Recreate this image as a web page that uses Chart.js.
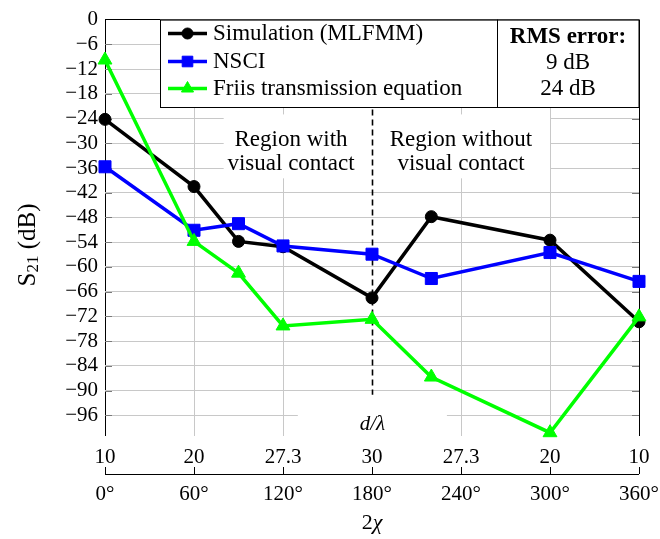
<!DOCTYPE html>
<html>
<head>
<meta charset="utf-8">
<script src="https://cdn.jsdelivr.net/npm/chart.js@4.4.1/dist/chart.umd.min.js"></script>
<style>
  html, body { margin: 0; padding: 0; background: #fff; }
</style>
</head>
<body>
<canvas id="s21Chart" width="660" height="539"></canvas>
<script>
// 2χ (deg) for each measured position
const angles = [0, 60, 90, 120, 180, 220, 300, 360];
// S21 in dB
const simulation = [-24.2, -40.5, -53.8, -55.1, -67.5, -47.8, -53.5, -73.3];
const nsci = [-35.7, -51.1, -49.5, -54.9, -56.9, -62.8, -56.5, -63.5];
const friis = [-9.8, -53.8, -61.5, -74.3, -72.7, -86.7, -100.2, -72.1];

const angleTicks = [0, 60, 120, 180, 240, 300, 360];
const distanceLabels = ['10', '20', '27.3', '30', '27.3', '20', '10'];
const yTicks = [0, -6, -12, -18, -24, -30, -36, -42, -48, -54, -60, -66, -72, -78, -84, -90, -96];
const rmsErrors = ['9 dB', '24 dB'];

const FONT = "'Liberation Serif', 'Times New Roman', serif";
Chart.defaults.font.family = FONT;
Chart.defaults.font.size = 21;
Chart.defaults.color = '#000';

const toXY = ys => ys.map((y, i) => ({ x: angles[i], y: y }));
const setTicks = list => scale => { scale.ticks = list.map(v => ({ value: v })); };

// grid extras, notes, titles and the legend box drawn by hand
const decorations = {
    id: 'decorations',
    beforeDatasetsDraw(chart) {
        const { ctx, chartArea: a, scales: { x, y } } = chart;
        ctx.save();
        // white boxes behind the notes
        ctx.fillStyle = '#fff';
        ctx.fillRect(x.getPixelForValue(80), y.getPixelForValue(-23), x.getPixelForValue(180) - x.getPixelForValue(80), y.getPixelForValue(-38.5) - y.getPixelForValue(-23));
        ctx.fillRect(x.getPixelForValue(180), y.getPixelForValue(-23), x.getPixelForValue(300) - x.getPixelForValue(180), y.getPixelForValue(-38.5) - y.getPixelForValue(-23));
        ctx.fillRect(x.getPixelForValue(130), y.getPixelForValue(-92.5), x.getPixelForValue(230.5) - x.getPixelForValue(130), a.bottom - y.getPixelForValue(-92.5));

        // small inward ticks on the y axes
        ctx.strokeStyle = '#7a7a7a';
        ctx.lineWidth = 1;
        yTicks.slice(1).forEach(v => {
            const py = Math.round(y.getPixelForValue(v)) + 0.5;
            ctx.beginPath();
            ctx.moveTo(a.left, py); ctx.lineTo(a.left + 7, py);
            ctx.moveTo(a.right - 7, py); ctx.lineTo(a.right, py);
            ctx.stroke();
        });

        // dashed separator at 180°
        const px = Math.round(x.getPixelForValue(180)) + 0.5;
        ctx.strokeStyle = '#000';
        ctx.lineWidth = 1.6;
        ctx.setLineDash([6, 4]);
        ctx.beginPath();
        ctx.moveTo(px, y.getPixelForValue(0));
        ctx.lineTo(px, y.getPixelForValue(-91));
        ctx.stroke();
        ctx.setLineDash([]);

        // region notes
        ctx.fillStyle = '#000';
        ctx.font = '23px ' + FONT;
        ctx.textAlign = 'center';
        ctx.textBaseline = 'middle';
        const cy = y.getPixelForValue(-32.1);
        ctx.fillText('Region with', x.getPixelForValue(125.4), cy - 12);
        ctx.fillText('visual contact', x.getPixelForValue(125.4), cy + 12);
        ctx.fillText('Region without', x.getPixelForValue(240), cy - 12);
        ctx.fillText('visual contact', x.getPixelForValue(240), cy + 12);

        ctx.font = 'italic 21px ' + FONT;
        ctx.fillText('d/λ', px, y.getPixelForValue(-98.2));
        ctx.restore();
    },
    afterDraw(chart) {
        const { ctx, chartArea: a, scales: { x, x2 } } = chart;
        ctx.save();

        // lower axis line with ticks pointing up
        const ly = Math.round(x2.top + 7) + 0.5;
        ctx.strokeStyle = '#000';
        ctx.lineWidth = 1;
        ctx.beginPath();
        ctx.moveTo(a.left, ly); ctx.lineTo(a.right, ly);
        ctx.stroke();

        // axis titles
        ctx.fillStyle = '#000';
        ctx.textBaseline = 'middle';
        ctx.font = '22px ' + FONT;
        const w2 = ctx.measureText('2').width;
        ctx.font = 'italic 22px ' + FONT;
        const wchi = ctx.measureText('χ').width;
        let tx = x.getPixelForValue(180) - (w2 + wchi) / 2;
        ctx.textAlign = 'left';
        ctx.font = '22px ' + FONT;
        ctx.fillText('2', tx, 523);
        ctx.font = 'italic 22px ' + FONT;
        ctx.fillText('χ', tx + w2, 523);

        ctx.save();
        ctx.translate(28, 245);
        ctx.rotate(-Math.PI / 2);
        ctx.font = '25px ' + FONT;
        const wS = ctx.measureText('S').width;
        const wRest = ctx.measureText(' (dB)').width;
        ctx.font = '17px ' + FONT;
        const wSub = ctx.measureText('21').width;
        let sx = -(wS + wSub + wRest) / 2;
        ctx.font = '25px ' + FONT;
        ctx.fillText('S', sx, 0);
        ctx.font = '17px ' + FONT;
        ctx.fillText('21', sx + wS, 6);
        ctx.font = '25px ' + FONT;
        ctx.fillText(' (dB)', sx + wS + wSub, 0);
        ctx.restore();

        // legend box
        const bx0 = 160, bx1 = 497, by0 = a.top, by1 = 107;
        ctx.fillStyle = '#fff';
        ctx.fillRect(bx0, by0, a.right - bx0, by1 - by0);
        ctx.strokeStyle = '#000';
        ctx.lineWidth = 1;
        ctx.strokeRect(bx0 + 0.5, by0 + 0.5, bx1 - bx0, by1 - by0);
        ctx.strokeRect(bx1 + 0.5, by0 + 0.5, a.right - bx1 - 0.5, by1 - by0);

        const rows = [33.5, 61.5, 88.5];
        const radii = [5.5, 7.5, 7];
        chart.data.datasets.forEach((ds, i) => {
            const ry = rows[i];
            ctx.strokeStyle = ds.borderColor;
            ctx.fillStyle = ds.backgroundColor;
            ctx.lineWidth = 3.5;
            ctx.beginPath();
            ctx.moveTo(168, ry); ctx.lineTo(207, ry);
            ctx.stroke();
            ctx.lineWidth = 1;
            Chart.helpers.drawPoint(ctx, { pointStyle: ds.pointStyle, radius: radii[i], rotation: 0, borderWidth: 1 }, 187.5, ry);
            ctx.fillStyle = '#000';
            ctx.font = '23px ' + FONT;
            ctx.textAlign = 'left';
            ctx.fillText(ds.label, 213, ry);
        });

        const rc = (bx1 + a.right) / 2;
        ctx.textAlign = 'center';
        ctx.font = 'bold 23px ' + FONT;
        ctx.fillText('RMS error:', rc, 37);
        ctx.font = '23px ' + FONT;
        ctx.fillText(rmsErrors[0], rc, 63);
        ctx.fillText(rmsErrors[1], rc, 89);
        ctx.restore();
    }
};

const common = { borderWidth: 3.5, pointBorderWidth: 1, tension: 0, clip: false };

new Chart(document.getElementById('s21Chart'), {
    type: 'line',
    data: {
        datasets: [
            Object.assign({ label: 'Simulation (MLFMM)', data: toXY(simulation), borderColor: '#000000', backgroundColor: '#000000', pointStyle: 'circle', pointRadius: 6, order: 2 }, common),
            Object.assign({ label: 'NSCI', data: toXY(nsci), borderColor: '#0000ff', backgroundColor: '#0000ff', pointStyle: 'rect', pointRadius: 8.5, order: 1 }, common),
            Object.assign({ label: 'Friis transmission equation', data: toXY(friis), borderColor: '#00ff00', backgroundColor: '#00ff00', pointStyle: 'triangle', pointRadius: 8, order: 0 }, common)
        ]
    },
    options: {
        responsive: false,
        animation: false,
        layout: { padding: { top: 15, right: 21, left: 0, bottom: 0 } },
        plugins: { legend: { display: false }, tooltip: { enabled: false } },
        scales: {
            x: {
                type: 'linear', position: 'bottom', weight: 0, min: 0, max: 360,
                afterBuildTicks: setTicks(angleTicks),
                ticks: { callback: v => distanceLabels[angleTicks.indexOf(v)], padding: 9, maxRotation: 0, autoSkip: false },
                grid: {
                    color: c => (c.tick && (c.tick.value === 0 || c.tick.value === 360)) ? '#000' : (c.tick && c.tick.value === 180 ? 'rgba(0,0,0,0)' : '#c8c8c8'),
                    lineWidth: 1, drawTicks: false
                },
                border: { display: false },
                afterFit: s => { s.height = 31; s.paddingLeft = 0; s.paddingRight = 0; }
            },
            x2: {
                type: 'linear', position: 'bottom', weight: 1, min: 0, max: 360,
                afterBuildTicks: setTicks(angleTicks),
                ticks: { callback: v => v + '°', padding: 8, maxRotation: 0, autoSkip: false },
                grid: { drawOnChartArea: false, drawTicks: true, tickLength: 7, color: '#000', lineWidth: 1 },
                border: { display: false },
                afterFit: s => { s.height = 72; s.paddingLeft = 0; s.paddingRight = 0; }
            },
            y: {
                type: 'linear', min: -101, max: 0,
                afterBuildTicks: setTicks(yTicks),
                ticks: { callback: v => v === 0 ? '0' : '\u2212' + Math.abs(v), padding: 7, autoSkip: false },
                grid: { color: c => (c.tick && c.tick.value === 0) ? '#000' : '#c8c8c8', drawTicks: false },
                border: { display: false },
                afterFit: s => { s.width = 105; }
            }
        }
    },
    plugins: [decorations]
});
</script>
</body>
</html>
